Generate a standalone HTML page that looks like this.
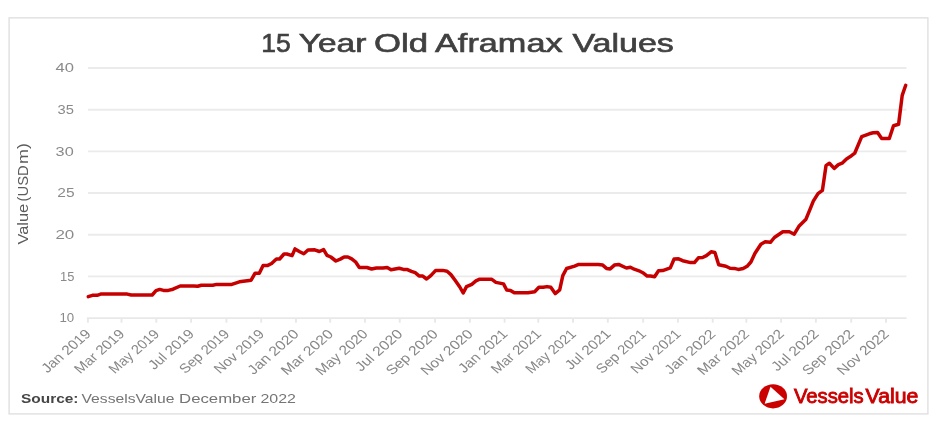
<!DOCTYPE html>
<html lang="en">
<head>
<meta charset="utf-8">
<title>15 Year Old Aframax Values</title>
<style>
html,body{margin:0;padding:0;background:#fff;}
body{width:940px;height:421px;overflow:hidden;}
svg{display:block;font-family:"Liberation Sans",sans-serif;}
</style>
</head>
<body>
<svg width="940" height="421" viewBox="0 0 940 421">
<rect x="0" y="0" width="940" height="421" fill="#ffffff"/>
<defs><filter id="soft" x="0" y="0" width="940" height="421" filterUnits="userSpaceOnUse"><feGaussianBlur stdDeviation="0.55"/></filter></defs>
<g filter="url(#soft)">
<rect x="9.1" y="17.85" width="918.8" height="396.05" fill="#ffffff" stroke="#e0e0e0" stroke-width="1.4"/>

<g stroke="#ebebeb" stroke-width="1.9">
<line x1="88" x2="906.5" y1="68.00" y2="68.00"/>
<line x1="88" x2="906.5" y1="109.68" y2="109.68"/>
<line x1="88" x2="906.5" y1="151.37" y2="151.37"/>
<line x1="88" x2="906.5" y1="193.05" y2="193.05"/>
<line x1="88" x2="906.5" y1="234.73" y2="234.73"/>
<line x1="88" x2="906.5" y1="276.42" y2="276.42"/>
</g>
<g stroke="#e8e8e8" stroke-width="1.9" fill="none">
<line x1="86.9" x2="906.5" y1="318.1" y2="318.1"/>
<line x1="87.90" x2="87.90" y1="318.1" y2="322.70000000000005"/>
<line x1="121.53" x2="121.53" y1="318.1" y2="322.70000000000005"/>
<line x1="156.31" x2="156.31" y1="318.1" y2="322.70000000000005"/>
<line x1="191.08" x2="191.08" y1="318.1" y2="322.70000000000005"/>
<line x1="226.43" x2="226.43" y1="318.1" y2="322.70000000000005"/>
<line x1="261.20" x2="261.20" y1="318.1" y2="322.70000000000005"/>
<line x1="295.98" x2="295.98" y1="318.1" y2="322.70000000000005"/>
<line x1="330.18" x2="330.18" y1="318.1" y2="322.70000000000005"/>
<line x1="364.95" x2="364.95" y1="318.1" y2="322.70000000000005"/>
<line x1="399.73" x2="399.73" y1="318.1" y2="322.70000000000005"/>
<line x1="435.07" x2="435.07" y1="318.1" y2="322.70000000000005"/>
<line x1="469.85" x2="469.85" y1="318.1" y2="322.70000000000005"/>
<line x1="504.62" x2="504.62" y1="318.1" y2="322.70000000000005"/>
<line x1="538.26" x2="538.26" y1="318.1" y2="322.70000000000005"/>
<line x1="573.03" x2="573.03" y1="318.1" y2="322.70000000000005"/>
<line x1="607.81" x2="607.81" y1="318.1" y2="322.70000000000005"/>
<line x1="643.15" x2="643.15" y1="318.1" y2="322.70000000000005"/>
<line x1="677.92" x2="677.92" y1="318.1" y2="322.70000000000005"/>
<line x1="712.70" x2="712.70" y1="318.1" y2="322.70000000000005"/>
<line x1="746.33" x2="746.33" y1="318.1" y2="322.70000000000005"/>
<line x1="781.11" x2="781.11" y1="318.1" y2="322.70000000000005"/>
<line x1="815.88" x2="815.88" y1="318.1" y2="322.70000000000005"/>
<line x1="851.23" x2="851.23" y1="318.1" y2="322.70000000000005"/>
<line x1="886.00" x2="886.00" y1="318.1" y2="322.70000000000005"/>
</g>
<g transform="translate(28.0,244.7) scale(1.15,1) rotate(-90)" fill="#5c5c5c" font-size="13.4">
<text x="0.20" y="0" textLength="40.77" lengthAdjust="spacingAndGlyphs">Value</text>
<text x="43.21" y="0" textLength="36.21" lengthAdjust="spacingAndGlyphs">(USD</text>
<text x="80.78" y="0" textLength="20.95" lengthAdjust="spacingAndGlyphs">m)</text>
</g>
<g fill="#878787" font-size="13.2" text-anchor="end">
<text transform="translate(91.80,334.9) scale(1.15,1) rotate(-45)" textLength="54.5" lengthAdjust="spacingAndGlyphs">Jan 2019</text>
<text transform="translate(125.43,334.9) scale(1.15,1) rotate(-45)" textLength="55.5" lengthAdjust="spacingAndGlyphs">Mar 2019</text>
<text transform="translate(160.21,334.9) scale(1.15,1) rotate(-45)" textLength="55.8" lengthAdjust="spacingAndGlyphs">May 2019</text>
<text transform="translate(194.98,334.9) scale(1.15,1) rotate(-45)" textLength="50.1" lengthAdjust="spacingAndGlyphs">Jul 2019</text>
<text transform="translate(230.33,334.9) scale(1.15,1) rotate(-45)" textLength="55.5" lengthAdjust="spacingAndGlyphs">Sep 2019</text>
<text transform="translate(265.10,334.9) scale(1.15,1) rotate(-45)" textLength="55.5" lengthAdjust="spacingAndGlyphs">Nov 2019</text>
<text transform="translate(299.88,334.9) scale(1.15,1) rotate(-45)" textLength="56.9" lengthAdjust="spacingAndGlyphs">Jan 2020</text>
<text transform="translate(334.08,334.9) scale(1.15,1) rotate(-45)" textLength="57.9" lengthAdjust="spacingAndGlyphs">Mar 2020</text>
<text transform="translate(368.85,334.9) scale(1.15,1) rotate(-45)" textLength="58.2" lengthAdjust="spacingAndGlyphs">May 2020</text>
<text transform="translate(403.63,334.9) scale(1.15,1) rotate(-45)" textLength="52.5" lengthAdjust="spacingAndGlyphs">Jul 2020</text>
<text transform="translate(438.97,334.9) scale(1.15,1) rotate(-45)" textLength="57.9" lengthAdjust="spacingAndGlyphs">Sep 2020</text>
<text transform="translate(473.75,334.9) scale(1.15,1) rotate(-45)" textLength="57.9" lengthAdjust="spacingAndGlyphs">Nov 2020</text>
<text transform="translate(508.52,334.9) scale(1.15,1) rotate(-45)" textLength="54.5" lengthAdjust="spacingAndGlyphs">Jan 2021</text>
<text transform="translate(542.16,334.9) scale(1.15,1) rotate(-45)" textLength="55.5" lengthAdjust="spacingAndGlyphs">Mar 2021</text>
<text transform="translate(576.93,334.9) scale(1.15,1) rotate(-45)" textLength="55.8" lengthAdjust="spacingAndGlyphs">May 2021</text>
<text transform="translate(611.71,334.9) scale(1.15,1) rotate(-45)" textLength="50.1" lengthAdjust="spacingAndGlyphs">Jul 2021</text>
<text transform="translate(647.05,334.9) scale(1.15,1) rotate(-45)" textLength="55.5" lengthAdjust="spacingAndGlyphs">Sep 2021</text>
<text transform="translate(681.82,334.9) scale(1.15,1) rotate(-45)" textLength="55.5" lengthAdjust="spacingAndGlyphs">Nov 2021</text>
<text transform="translate(716.60,334.9) scale(1.15,1) rotate(-45)" textLength="56.7" lengthAdjust="spacingAndGlyphs">Jan 2022</text>
<text transform="translate(750.23,334.9) scale(1.15,1) rotate(-45)" textLength="57.7" lengthAdjust="spacingAndGlyphs">Mar 2022</text>
<text transform="translate(785.01,334.9) scale(1.15,1) rotate(-45)" textLength="58.0" lengthAdjust="spacingAndGlyphs">May 2022</text>
<text transform="translate(819.78,334.9) scale(1.15,1) rotate(-45)" textLength="52.3" lengthAdjust="spacingAndGlyphs">Jul 2022</text>
<text transform="translate(855.13,334.9) scale(1.15,1) rotate(-45)" textLength="57.7" lengthAdjust="spacingAndGlyphs">Sep 2022</text>
<text transform="translate(889.90,334.9) scale(1.15,1) rotate(-45)" textLength="57.7" lengthAdjust="spacingAndGlyphs">Nov 2022</text>
</g>
<polyline fill="none" stroke="#c60000" stroke-width="3.5" stroke-linejoin="round" stroke-linecap="round" points="88.3,296.6 92.4,295.3 97.1,295.3 100.7,294.1 127.3,294.1 131.2,295.0 152.2,295.0 156.0,290.6 159.7,289.4 163.5,290.4 168.3,290.4 173,289.2 180.2,286 193.9,286 197.6,286.3 201.4,285.2 212.8,285.2 216.6,284.4 231.8,284.4 239.4,281.8 251.1,280.2 255.1,273.2 259.3,273.2 263.1,265.4 267.8,265.4 271.6,263.5 276.4,259 279.6,259 284,254 286.8,254 292.1,255.6 295,248.9 299.3,251.5 303.8,253.8 308,250 314.7,249.8 319.4,251.5 323.6,249.6 327,255.3 330.8,257 335.9,261 340.3,259.1 344.1,257 347.9,257 351.7,258.9 355.5,261.8 359.3,267.5 366.9,267.5 371.6,269 376.4,268 383,268 387.2,267.5 391,269.7 399.2,268.2 403.4,269.4 407.4,269.6 411.4,271.4 415.2,272.7 419,275.9 422.8,276.1 426.6,279 430.8,275.6 435.7,270.4 442.7,270.4 447.1,271.2 450.9,274.6 455.1,280.3 459.8,287 463.2,293 466.5,286.6 471.8,284.3 475.9,280.9 479.7,279.2 491.5,279.2 495.9,282.4 503.5,283.9 506.7,290 510.5,290.4 514.3,292.8 528,292.8 534.7,291.7 538.9,287.3 543.2,287.3 547,286.6 550.8,287.3 555.2,293.6 559.7,289.8 562.8,275.6 566.6,268.5 574.6,266.1 578.7,264.4 598.3,264.4 602.7,265.1 606.5,268.4 610.2,268.9 614.4,265.1 618.6,264.4 626.4,268 630.4,267.3 634.2,269.2 639,270.8 642.8,272.7 647.2,276.1 650.4,276.1 654.6,276.8 658.5,270.8 662.7,270.6 670.3,267.9 674.1,259 678.5,258.8 682.7,260.7 690.6,262.6 694.4,262.6 698.4,257.8 702.6,257.5 706.4,255.6 711.1,251.8 714.9,252.5 718.7,264.7 725.9,266.2 730.1,268.3 734.3,268.4 738.3,269.4 743.1,268.6 747.1,266.3 750.9,262 755,253.2 760.9,244.2 765.2,241.8 770.4,242.3 774.4,237.5 782.8,231.8 789.4,231.8 794.2,234.2 798.9,226.3 806,219.2 810.8,207.3 813.3,201.2 818,193.6 822.4,190.4 826,165.7 829.4,163.2 834.2,168.4 838.4,164.6 842.1,163.2 846.5,158.9 850.3,156.6 854.7,153.2 861.7,136.6 869.3,133.8 873.1,132.8 877.6,132.4 881.7,138.5 889.3,138.5 893.5,125.7 898.6,124.2 902.2,95.4 905.7,85.3"/>
<text x="261.24" y="52.30" font-size="25.7" fill="#404040" stroke="#404040" stroke-width="0.62" textLength="29.54" lengthAdjust="spacingAndGlyphs">15</text>
<text x="298.78" y="52.30" font-size="25.7" fill="#404040" stroke="#404040" stroke-width="0.62" textLength="67.59" lengthAdjust="spacingAndGlyphs">Year</text>
<text x="374.07" y="52.30" font-size="25.7" fill="#404040" stroke="#404040" stroke-width="0.62" textLength="54.08" lengthAdjust="spacingAndGlyphs">Old</text>
<text x="435.00" y="52.30" font-size="25.7" fill="#404040" stroke="#404040" stroke-width="0.62" textLength="127.60" lengthAdjust="spacingAndGlyphs">Aframax</text>
<text x="572.40" y="52.30" font-size="25.7" fill="#404040" stroke="#404040" stroke-width="0.62" textLength="101.46" lengthAdjust="spacingAndGlyphs">Values</text>
<text x="55.64" y="72.20" font-size="13.2" fill="#8a8a8a" textLength="18.47" lengthAdjust="spacingAndGlyphs">40</text>
<text x="57.54" y="113.88" font-size="13.2" fill="#8a8a8a" textLength="16.36" lengthAdjust="spacingAndGlyphs">35</text>
<text x="55.59" y="155.57" font-size="13.2" fill="#8a8a8a" textLength="18.11" lengthAdjust="spacingAndGlyphs">30</text>
<text x="57.27" y="197.25" font-size="13.2" fill="#8a8a8a" textLength="17.26" lengthAdjust="spacingAndGlyphs">25</text>
<text x="55.40" y="238.93" font-size="13.2" fill="#8a8a8a" textLength="18.92" lengthAdjust="spacingAndGlyphs">20</text>
<text x="60.09" y="280.62" font-size="13.2" fill="#8a8a8a" textLength="14.33" lengthAdjust="spacingAndGlyphs">15</text>
<text x="59.47" y="322.30" font-size="13.2" fill="#8a8a8a" textLength="14.76" lengthAdjust="spacingAndGlyphs">10</text>
<text x="21.06" y="403.00" font-size="13.0" font-weight="bold" fill="#454545" textLength="57.42" lengthAdjust="spacingAndGlyphs">Source:</text>
<text x="81.50" y="403.00" font-size="13.0" fill="#747474" textLength="92.94" lengthAdjust="spacingAndGlyphs">VesselsValue</text>
<text x="179.09" y="403.00" font-size="13.0" fill="#747474" textLength="77.19" lengthAdjust="spacingAndGlyphs">December</text>
<text x="260.45" y="403.00" font-size="13.0" fill="#747474" textLength="35.49" lengthAdjust="spacingAndGlyphs">2022</text>
<text x="793.90" y="403.30" font-size="19.3" fill="#cb0000" stroke="#cb0000" stroke-width="0.85" textLength="69.73" lengthAdjust="spacingAndGlyphs">Vessels</text>
<text x="865.60" y="403.30" font-size="19.3" fill="#cb0000" stroke="#cb0000" stroke-width="0.85" textLength="52.66" lengthAdjust="spacingAndGlyphs">Value</text>
<ellipse cx="773.1" cy="396.35" rx="13.9" ry="12.05" fill="#cb0000"/>
<polygon points="770.5,386.8 784.4,399.2 764.6,403.7" fill="#ffffff"/>
</g>
</svg>
</body>
</html>
